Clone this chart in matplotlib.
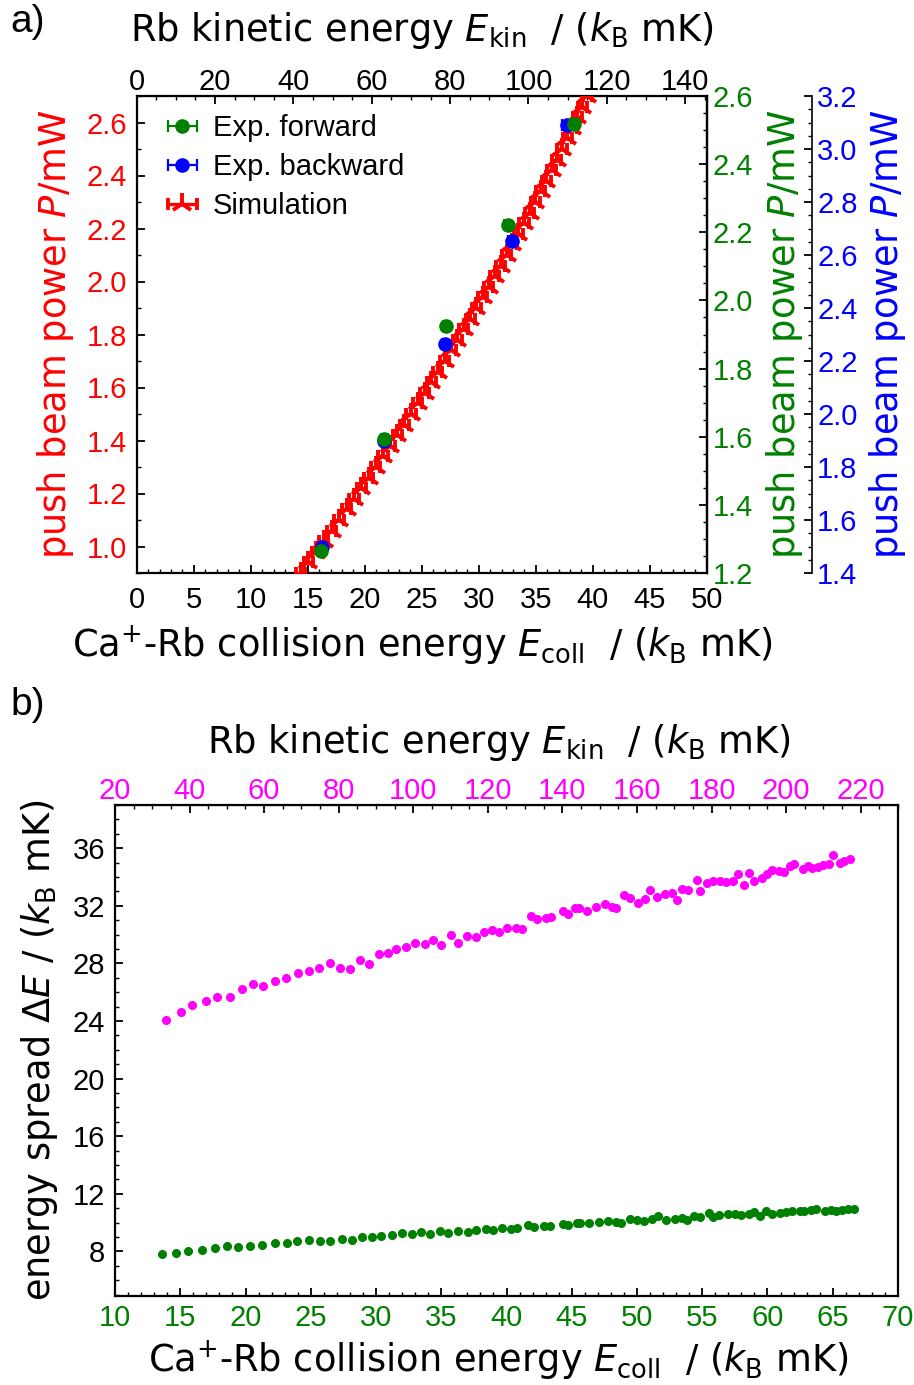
import matplotlib
matplotlib.use("Agg")
import matplotlib.pyplot as plt
from matplotlib.ticker import MultipleLocator, FormatStrFormatter

plt.rcParams['font.family'] = ['Liberation Sans', 'DejaVu Sans']
plt.rcParams['mathtext.fontset'] = 'dejavusans'

# ---------------- panel a data ----------------
sim_P = [0.90, 0.94, 0.98, 1.02, 1.06, 1.10, 1.14, 1.18, 1.22, 1.26, 1.30, 1.34, 1.38,
         1.42, 1.46, 1.50, 1.54, 1.58, 1.62, 1.66, 1.70, 1.74, 1.78, 1.82, 1.86, 1.90,
         1.94, 1.98, 2.02, 2.06, 2.10, 2.14, 2.18, 2.22, 2.26, 2.30, 2.34, 2.38, 2.42,
         2.46, 2.50, 2.54, 2.58, 2.62, 2.66, 2.70]
sim_E = [14.38, 15.07, 15.75, 16.42, 17.09, 17.75, 18.41, 19.06, 19.71, 20.35, 20.98,
         21.61, 22.23, 22.85, 23.46, 24.06, 24.66, 25.25, 25.84, 26.42, 27.00, 27.57,
         28.13, 28.69, 29.25, 29.79, 30.34, 30.87, 31.40, 31.93, 32.44, 32.96, 33.46,
         33.97, 34.46, 34.95, 35.43, 35.91, 36.39, 36.85, 37.31, 37.77, 38.22, 38.66,
         39.10, 39.53]
sim_Eerr = [0.4] * len(sim_E)

fwd_E = [16.17, 21.72, 27.13, 32.54, 38.39]
fwd_P = [1.265, 1.593, 1.924, 2.221, 2.517]
fwd_Eerr = [0.3, 0.3, 0.3, 0.3, 0.4]

bwd_E = [16.25, 21.69, 27.04, 32.89, 37.77]
bwd_P = [1.499, 1.899, 2.265, 2.653, 3.092]
bwd_Eerr = [0.3, 0.3, 0.3, 0.3, 0.45]

# ---------------- panel b data ----------------
mag_E = [13.92, 15.02, 15.89, 16.94, 17.78, 18.81, 19.70, 20.55, 21.37, 22.29, 23.11, 24.06,
         24.90, 25.62, 26.44, 27.26, 27.98, 28.80, 29.49, 30.23, 30.92, 31.56, 32.33, 33.02,
         33.76, 34.33, 34.97, 35.71, 36.27, 36.96, 37.65, 38.25, 38.91, 39.45, 40.06, 40.71,
         41.17, 41.91, 42.34, 43.03, 43.42, 44.32, 44.72, 45.26, 45.59, 46.18, 46.88, 47.51,
         48.05, 48.41, 49.00, 49.49, 50.05, 50.59, 51.02, 51.56, 52.15, 52.71, 53.05, 53.48,
         53.92, 54.56, 54.86, 55.35, 55.86, 56.35, 56.84, 57.38, 57.71, 58.19, 58.61, 58.99,
         59.55, 59.96, 60.37, 60.91, 61.26, 61.73, 62.03, 62.70, 63.14, 63.44, 63.88, 64.26,
         64.72, 65.01, 65.54, 65.90, 66.33]
mag_dE = [24.09, 24.64, 25.11, 25.41, 25.64, 25.64, 26.20, 26.59, 26.41, 26.75, 26.96, 27.31,
          27.50, 27.71, 28.01, 27.71, 27.62, 28.22, 27.94, 28.68, 28.73, 29.03, 29.15, 29.40,
          29.33, 29.59, 29.31, 29.96, 29.45, 29.89, 29.80, 30.19, 30.33, 30.19, 30.49, 30.47,
          30.42, 31.31, 31.05, 31.14, 31.21, 31.61, 31.45, 31.84, 31.82, 31.63, 31.89, 32.12,
          31.89, 31.84, 32.74, 32.53, 32.21, 32.46, 33.09, 32.63, 32.81, 32.88, 32.42, 33.19,
          33.09, 33.77, 33.05, 33.61, 33.70, 33.70, 33.68, 33.75, 34.23, 33.42, 34.27, 33.70,
          33.93, 34.23, 34.46, 34.44, 34.37, 34.74, 34.88, 34.55, 34.74, 34.60, 34.72, 34.86,
          34.93, 35.53, 34.97, 35.09, 35.23]

grn_E = [13.59, 14.69, 15.58, 16.66, 17.63, 18.55, 19.42, 20.37, 21.24, 22.29, 23.19, 23.98,
         24.85, 25.70, 26.49, 27.39, 28.13, 28.95, 29.69, 30.38, 31.23, 31.97, 32.79, 33.43,
         34.10, 34.91, 35.53, 36.27, 37.04, 37.68, 38.40, 38.96, 39.63, 40.35, 40.83, 41.67,
         42.14, 42.90, 43.34, 44.34, 44.75, 45.39, 45.67, 46.34, 47.08, 47.80, 48.39, 48.80,
         49.44, 49.97, 50.56, 51.18, 51.64, 52.23, 52.89, 53.48, 53.84, 54.38, 54.81, 55.48,
         55.84, 56.32, 56.94, 57.48, 57.99, 58.55, 58.96, 59.45, 59.91, 60.34, 60.99, 61.39,
         61.86, 62.52, 62.83, 63.37, 63.75, 64.41, 64.90, 65.23, 65.70, 66.16, 66.64]
grn_dE = [7.84, 7.91, 8.02, 8.07, 8.26, 8.35, 8.30, 8.40, 8.42, 8.56, 8.58, 8.70,
          8.79, 8.70, 8.70, 8.86, 8.77, 9.00, 8.97, 9.09, 9.14, 9.27, 9.23, 9.32,
          9.23, 9.39, 9.27, 9.39, 9.34, 9.48, 9.53, 9.48, 9.60, 9.58, 9.60, 9.86,
          9.72, 9.76, 9.79, 9.93, 9.86, 10.00, 10.00, 9.95, 10.02, 10.09, 10.02, 9.97,
          10.28, 10.21, 10.11, 10.23, 10.44, 10.18, 10.28, 10.32, 10.16, 10.44, 10.39, 10.65,
          10.37, 10.56, 10.60, 10.58, 10.53, 10.60, 10.74, 10.49, 10.79, 10.60, 10.65, 10.74,
          10.83, 10.81, 10.79, 10.90, 10.97, 10.83, 10.88, 10.83, 10.90, 10.92, 10.97]

RED, GREEN, BLUE, MAG = '#ff0000', '#008000', '#0000ff', '#ff00ff'
TICK_FS = 21
LABEL_FS = 26.5
LFONT = 'DejaVu Sans'

W, H = 914, 1385
fig = plt.figure(figsize=(W / 100, H / 100), dpi=100)


def px_axes(x0, y0, x1, y1):
    return [x0 / W, 1 - y1 / H, (x1 - x0) / W, (y1 - y0) / H]


def style_ticks(ax, axis='both'):
    ax.tick_params(axis=axis, which='major', direction='in', length=6, width=1.3,
                   labelsize=TICK_FS)
    ax.tick_params(axis=axis, which='minor', direction='in', length=3, width=1.0)


# ================= panel a =================
ax1 = fig.add_axes(px_axes(136.7, 96, 706.7, 573))
ax1.set_xlim(0, 50)
ax1.set_ylim(0.9, 2.7)
for s in ax1.spines.values():
    s.set_linewidth(1.6)
ax1.xaxis.set_major_locator(MultipleLocator(5))
ax1.xaxis.set_minor_locator(MultipleLocator(1))
ax1.yaxis.set_major_locator(MultipleLocator(0.2))
ax1.yaxis.set_minor_locator(MultipleLocator(0.1))
style_ticks(ax1)
ax1.tick_params(top=False, right=False, which='both')
ax1.tick_params(axis='x', which='major', pad=9)
ax1.tick_params(axis='y', which='major', pad=7, labelcolor=RED)
ax1.yaxis.set_major_formatter(FormatStrFormatter('%.1f'))

sim = ax1.errorbar(sim_E, sim_P, xerr=sim_Eerr, fmt='2', color=RED, ms=16, mew=2.8,
                   elinewidth=2.4, capsize=4, capthick=2.4, zorder=3, label='Simulation')

ax1.set_xlabel('Ca$^{+}$-Rb collision energy $E_\\mathrm{coll}$  / ($k_\\mathrm{B}$ mK)',
               fontsize=LABEL_FS, family=LFONT)
ax1.xaxis.set_label_coords(0.5, -0.151)
ax1.xaxis.label.set_va('center')
ax1.set_ylabel('push beam power $P$/mW', fontsize=LABEL_FS, family=LFONT, color=RED)
ax1.yaxis.set_label_coords(-0.143, 0.5)
ax1.yaxis.label.set_va('center')

secx1 = ax1.secondary_xaxis('top', functions=(lambda e: e * 2.91, lambda k: k / 2.91))
secx1.xaxis.set_major_locator(MultipleLocator(20))
secx1.xaxis.set_minor_locator(MultipleLocator(5))
style_ticks(secx1, 'x')
secx1.tick_params(axis='x', which='major', pad=0)
secx1.set_xlabel('Rb kinetic energy $E_\\mathrm{kin}$  / ($k_\\mathrm{B}$ mK)',
                 fontsize=LABEL_FS, family=LFONT)
secx1.xaxis.set_label_coords(0.5, 1.138, transform=ax1.transAxes)
secx1.xaxis.label.set_va('center')

# blue axis (offset spine)
ax_b = ax1.twinx()
ax_b.set_ylim(1.4, 3.2)
ax_b.spines['right'].set_position(('axes', 1.184))
for k in ('top', 'bottom', 'left'):
    ax_b.spines[k].set_visible(False)
ax_b.spines['right'].set_linewidth(1.2)
ax_b.yaxis.set_major_locator(MultipleLocator(0.2))
ax_b.yaxis.set_minor_locator(MultipleLocator(0.05))
style_ticks(ax_b, 'y')
ax_b.tick_params(axis='y', which='major', pad=4, labelcolor=BLUE)
ax_b.yaxis.set_major_formatter(FormatStrFormatter('%.1f'))
bwd = ax_b.errorbar(bwd_E, bwd_P, xerr=bwd_Eerr, fmt='o', color=BLUE, ms=9.5,
                    elinewidth=1.6, capsize=4, capthick=1.6, label='Exp. backward')
ax_b.set_ylabel('push beam power $P$/mW', fontsize=LABEL_FS, family=LFONT, color=BLUE)
ax_b.yaxis.set_label_coords(1.318, 0.5)
ax_b.yaxis.label.set_va('center')

# green axis
ax_g = ax1.twinx()
ax_g.set_ylim(1.2, 2.6)
for k in ('top', 'bottom', 'left'):
    ax_g.spines[k].set_visible(False)
ax_g.spines['right'].set_linewidth(1.6)
ax_g.yaxis.set_major_locator(MultipleLocator(0.2))
ax_g.yaxis.set_minor_locator(MultipleLocator(0.05))
style_ticks(ax_g, 'y')
ax_g.tick_params(axis='y', which='major', pad=4, labelcolor=GREEN)
ax_g.yaxis.set_major_formatter(FormatStrFormatter('%.1f'))
fwd = ax_g.errorbar(fwd_E, fwd_P, xerr=fwd_Eerr, fmt='o', color=GREEN, ms=9.5,
                    elinewidth=1.6, capsize=4, capthick=1.6, label='Exp. forward')
ax_g.set_ylabel('push beam power $P$/mW', fontsize=LABEL_FS, family=LFONT, color=GREEN)
ax_g.yaxis.set_label_coords(1.137, 0.5)
ax_g.yaxis.label.set_va('center')

ax_g.legend([fwd, bwd, sim], ['Exp. forward', 'Exp. backward', 'Simulation'],
            loc='upper left', bbox_to_anchor=(0.052, 0.962), frameon=False,
            fontsize=21, handlelength=1.1, handletextpad=0.5, labelspacing=0.38,
            borderpad=0, borderaxespad=0)

fig.text(10 / W, 1 - 22 / H, 'a)', fontsize=28, va='center', ha='left')

# ================= panel b =================
ax2 = fig.add_axes(px_axes(115, 805, 898, 1296))
ax2.set_xlim(10, 70)
ax2.set_ylim(4.9, 39.0)
for s in ax2.spines.values():
    s.set_linewidth(1.6)
ax2.xaxis.set_major_locator(MultipleLocator(5))
ax2.xaxis.set_minor_locator(MultipleLocator(1))
ax2.yaxis.set_major_locator(MultipleLocator(4))
ax2.yaxis.set_minor_locator(MultipleLocator(1))
style_ticks(ax2)
ax2.tick_params(top=False, right=False, which='both')
ax2.tick_params(axis='x', which='major', pad=6, labelcolor=GREEN)
ax2.tick_params(axis='y', which='major', pad=7)

ax2.plot(mag_E, mag_dE, 'o', ls='none', color=MAG, ms=5.5)
ax2.plot(grn_E, grn_dE, 'o', ls='none', color=GREEN, ms=5.5)

ax2.set_xlabel('Ca$^{+}$-Rb collision energy $E_\\mathrm{coll}$  / ($k_\\mathrm{B}$ mK)',
               fontsize=LABEL_FS, family=LFONT)
ax2.xaxis.set_label_coords(0.49, -0.130)
ax2.xaxis.label.set_va('center')
ax2.set_ylabel('energy spread $\\Delta E$ / ($k_\\mathrm{B}$ mK)', fontsize=LABEL_FS,
               family=LFONT)
ax2.yaxis.set_label_coords(-0.0958, 0.5)
ax2.yaxis.label.set_va('center')

secx2 = ax2.secondary_xaxis('top', functions=(lambda e: 20 + 3.5 * (e - 10),
                                              lambda k: 10 + (k - 20) / 3.5))
secx2.xaxis.set_major_locator(MultipleLocator(20))
secx2.xaxis.set_minor_locator(MultipleLocator(5))
style_ticks(secx2, 'x')
secx2.tick_params(axis='x', which='major', pad=0, labelcolor=MAG)
secx2.set_xlabel('Rb kinetic energy $E_\\mathrm{kin}$  / ($k_\\mathrm{B}$ mK)',
                 fontsize=LABEL_FS, family=LFONT)
secx2.xaxis.set_label_coords(0.49, 1.128, transform=ax2.transAxes)
secx2.xaxis.label.set_va('center')

fig.text(10 / W, 1 - 705 / H, 'b)', fontsize=28, va='center', ha='left')

fig.savefig('out.png', dpi=100)
